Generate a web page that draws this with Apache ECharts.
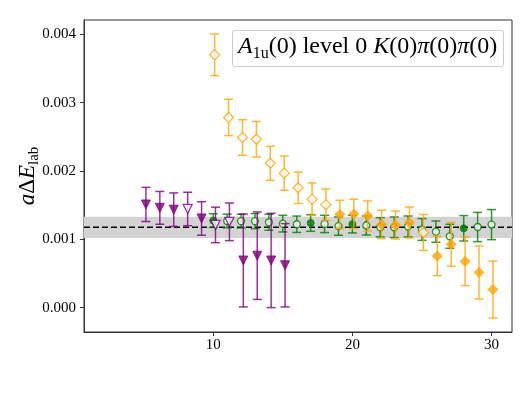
<!DOCTYPE html>
<html>
<head>
<meta charset="utf-8">
<script src="https://cdn.jsdelivr.net/npm/echarts@6/dist/echarts.min.js"></script>
<style>
  html, body { margin: 0; padding: 0; background: #fff; }
  #main { width: 532px; height: 399px; }
</style>
</head>
<body>
<div id="main"></div>
<script>
// purple: down triangles
const purpleX = [5, 6, 7, 8, 9, 10, 11, 12, 13, 14, 15];
const purpleY = [1.51e-3, 1.46e-3, 1.434e-3, 1.444e-3, 1.305e-3, 1.21e-3, 1.256e-3, 0.69e-3, 0.76e-3, 0.69e-3, 0.62e-3];
const purpleErr = [0.25e-3, 0.24e-3, 0.245e-3, 0.245e-3, 0.245e-3, 0.26e-3, 0.275e-3, 0.68e-3, 0.64e-3, 0.69e-3, 0.61e-3];
const purpleOpen = [8, 10, 11];

// orange: diamonds
const orangeX = [10, 11, 12, 13, 14, 15, 16, 17, 18, 19, 20, 21, 22, 23, 24, 25, 26, 27, 28, 29, 30];
const orangeY = [3.70e-3, 2.784e-3, 2.49e-3, 2.464e-3, 2.113e-3, 1.968e-3, 1.754e-3, 1.588e-3, 1.507e-3, 1.364e-3, 1.372e-3,
  1.342e-3, 1.218e-3, 1.209e-3, 1.246e-3, 1.10e-3, 0.756e-3, 0.927e-3, 0.678e-3, 0.514e-3, 0.265e-3];
const orangeErr = [0.305e-3, 0.266e-3, 0.26e-3, 0.26e-3, 0.25e-3, 0.25e-3, 0.23e-3, 0.237e-3, 0.23e-3, 0.207e-3, 0.215e-3,
  0.22e-3, 0.208e-3, 0.205e-3, 0.227e-3, 0.263e-3, 0.288e-3, 0.322e-3, 0.356e-3, 0.388e-3, 0.417e-3];
const orangeOpen = [10, 11, 12, 13, 14, 15, 16, 17, 18, 25];

// green: circles
const greenX = [10, 11, 12, 13, 14, 15, 16, 17, 18, 19, 20, 21, 22, 23, 24, 25, 26, 27, 28, 29, 30];
const greenY = [1.274e-3, 1.268e-3, 1.266e-3, 1.266e-3, 1.249e-3, 1.229e-3, 1.22e-3, 1.239e-3, 1.225e-3, 1.193e-3, 1.222e-3,
  1.202e-3, 1.176e-3, 1.176e-3, 1.188e-3, 1.144e-3, 1.112e-3, 1.044e-3, 1.161e-3, 1.18e-3, 1.215e-3];
const greenErr = [0.10e-3, 0.10e-3, 0.10e-3, 0.11e-3, 0.117e-3, 0.122e-3, 0.12e-3, 0.122e-3, 0.127e-3, 0.134e-3, 0.129e-3,
  0.139e-3, 0.14e-3, 0.151e-3, 0.153e-3, 0.159e-3, 0.156e-3, 0.176e-3, 0.186e-3, 0.214e-3, 0.22e-3];
const greenFilled = [10, 17, 20, 28];

// fit result
const fitValue = 1.175e-3;
const fitErr = 0.155e-3;

const yTicks = [0, 0.001, 0.002, 0.003, 0.004];
const xTicks = [10, 20, 30];

const X_MIN = 0.71, X_MAX = 31.47;
const FONT = 'Liberation Serif';
const PURPLE = '#800080', ORANGE = '#FFA500', GREEN = '#008000';

let myChart = echarts.init(document.getElementById('main'));

function errSeries(xs, ys, es, shift, color, z) {
  return {
    type: 'custom',
    z: z,
    silent: true,
    data: xs.map((x, i) => [x + shift, ys[i], es[i]]),
    renderItem: function (params, api) {
      let x = api.value(0), y = api.value(1), e = api.value(2);
      let top = api.coord([x, y + e]);
      let bot = api.coord([x, y - e]);
      let cap = 4.5;
      let st = { stroke: color, lineWidth: 1.5, opacity: 0.8 };
      return {
        type: 'group',
        children: [
          { type: 'line', shape: { x1: top[0], y1: top[1], x2: bot[0], y2: bot[1] }, style: st },
          { type: 'line', shape: { x1: top[0] - cap, y1: top[1], x2: top[0] + cap, y2: top[1] }, style: st },
          { type: 'line', shape: { x1: bot[0] - cap, y1: bot[1], x2: bot[0] + cap, y2: bot[1] }, style: st }
        ]
      };
    }
  };
}

function markSeries(xs, ys, shift, color, symbol, size, rotate, isOpen, z) {
  return {
    type: 'scatter',
    z: z,
    symbol: symbol,
    symbolSize: size,
    symbolRotate: rotate,
    data: xs.map((x, i) => ({
      value: [x + shift, ys[i]],
      itemStyle: isOpen(x)
        ? { color: '#fff', borderColor: color, borderWidth: 1.3 }
        : { color: color, borderColor: color, borderWidth: 1 }
    }))
  };
}

let option = {
  animation: false,
  title: {
    text: '{i|A}{s|1u}{n|(0) level 0 }{i|K}{n|(0)}{i|π}{n|(0)}{i|π}{n|(0)}',
    left: 232,
    top: 27,
    padding: [5, 6, 5, 6],
    borderColor: '#cccccc',
    borderWidth: 1,
    borderRadius: 2,
    textStyle: {
      fontWeight: 'normal',
      rich: {
        i: { fontFamily: FONT, fontStyle: 'italic', fontWeight: 'normal', fontSize: 24, color: '#000', lineHeight: 30 },
        n: { fontFamily: FONT, fontWeight: 'normal', fontSize: 24, color: '#000', lineHeight: 30 },
        s: { fontFamily: FONT, fontWeight: 'normal', fontSize: 16, color: '#000', lineHeight: 30, verticalAlign: 'bottom', padding: [8, 0, 0, 0] }
      }
    }
  },
  grid: {
    left: 84, top: 20, right: 20, bottom: 67,
    show: true, borderColor: '#333', borderWidth: 1
  },
  xAxis: {
    type: 'value',
    min: X_MIN, max: X_MAX,
    splitLine: { show: false },
    axisLine: { onZero: false, lineStyle: { color: '#333' } },
    axisTick: { customValues: xTicks, length: 4, lineStyle: { color: '#333' } },
    axisLabel: { customValues: xTicks, fontFamily: FONT, fontSize: 15, color: '#000', margin: 6 }
  },
  yAxis: {
    type: 'value',
    min: -0.000357, max: 0.00421,
    splitLine: { show: false },
    axisLine: { onZero: false, lineStyle: { color: '#333' } },
    axisTick: { customValues: yTicks, length: 4, lineStyle: { color: '#333' } },
    axisLabel: {
      customValues: yTicks, fontFamily: FONT, fontSize: 15, color: '#000', margin: 8,
      formatter: v => v.toFixed(3)
    },
    name: '{i|a}{n|Δ}{i|E}{s|lab}',
    nameLocation: 'middle',
    nameRotate: 90,
    nameGap: 42,
    nameMoveOverlap: false,
    nameTextStyle: {
      rich: {
        i: { fontFamily: FONT, fontStyle: 'italic', fontSize: 23, color: '#000', lineHeight: 28 },
        n: { fontFamily: FONT, fontSize: 23, color: '#000', lineHeight: 28 },
        s: { fontFamily: FONT, fontSize: 15, color: '#000', lineHeight: 28, verticalAlign: 'bottom', padding: [12, 0, 0, 0] }
      }
    }
  },
  series: [
    {
      // fit band and central value
      type: 'custom',
      z: 1,
      silent: true,
      data: [[fitValue, fitErr]],
      renderItem: function (params, api) {
        let v = api.value(0), e = api.value(1);
        let a = api.coord([X_MIN, v + e]);
        let b = api.coord([X_MAX, v - e]);
        let l0 = api.coord([X_MIN, v]);
        let l1 = api.coord([X_MAX, v]);
        return {
          type: 'group',
          children: [
            { type: 'rect', shape: { x: a[0], y: a[1], width: b[0] - a[0], height: b[1] - a[1] }, style: { fill: '#d3d3d3' } },
            { type: 'line', shape: { x1: l0[0], y1: l0[1], x2: l1[0], y2: l1[1] },
              style: { stroke: '#000', lineWidth: 1.5, lineDash: [6, 3] }, z2: 10 }
          ]
        };
      }
    },
    errSeries(greenX, greenY, greenErr, 0, GREEN, 2),
    markSeries(greenX, greenY, 0, GREEN, 'circle', 7, 0, x => greenFilled.indexOf(x) < 0, 3),
    errSeries(orangeX, orangeY, orangeErr, 0.1, ORANGE, 4),
    markSeries(orangeX, orangeY, 0.1, ORANGE, 'diamond', 10, 0, x => orangeOpen.indexOf(x) >= 0, 5),
    errSeries(purpleX, purpleY, purpleErr, 0.16, PURPLE, 6),
    markSeries(purpleX, purpleY, 0.16, PURPLE, 'triangle', 9, 180, x => purpleOpen.indexOf(x) >= 0, 7)
  ]
};
myChart.setOption(option);
</script>
</body>
</html>
